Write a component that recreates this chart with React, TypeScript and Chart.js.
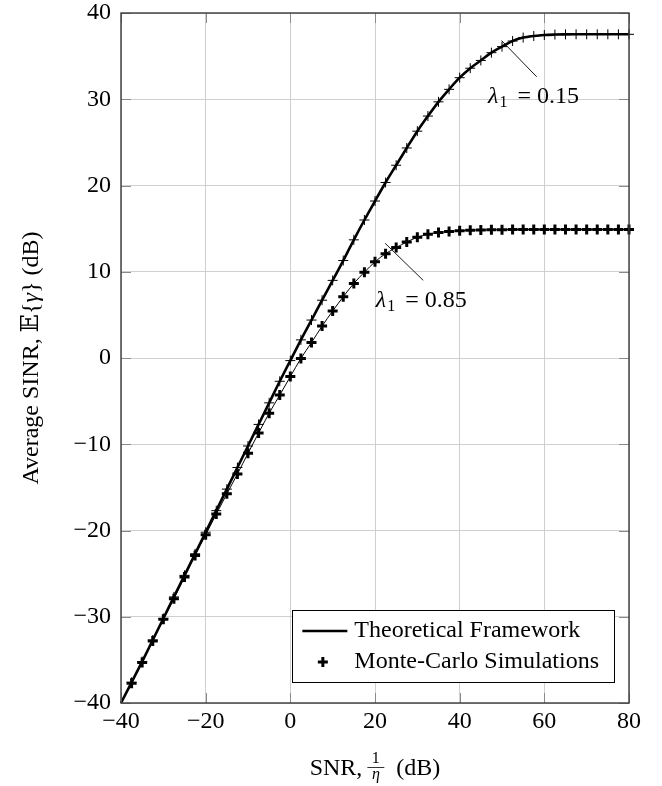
import { useEffect, useRef } from "react";
import { Chart, registerables } from "chart.js";

Chart.register(...registerables);

// ---------- data ----------
const snrDb = [
  -40, -37.5, -35, -32.5, -30, -27.5, -25, -22.5, -20, -17.5, -15, -12.5, -10, -7.5, -5, -2.5,
  0, 2.5, 5, 7.5, 10, 12.5, 15, 17.5, 20, 22.5, 25, 27.5, 30, 32.5, 35, 37.5,
  40, 42.5, 45, 47.5, 50, 52.5, 55, 57.5, 60, 62.5, 65, 67.5, 70, 72.5, 75, 77.5, 80,
];
const sinrLambda015 = [
  -40, -37.6, -35.2, -32.7, -30.2, -27.7, -25.2, -22.7, -20.2, -17.7, -15.2, -12.7, -10.2, -7.7, -5.2, -2.7,
  -0.3, 2.1, 4.4, 6.7, 9.0, 11.3, 13.7, 16.0, 18.2, 20.35, 22.35, 24.35, 26.3, 28.05, 29.7, 31.15,
  32.5, 33.6, 34.5, 35.4, 36.1, 36.75, 37.15, 37.33, 37.45, 37.5, 37.52, 37.53, 37.53, 37.53, 37.53, 37.53, 37.53,
];
const sinrLambda085 = [
  -40, -37.7, -35.3, -32.8, -30.3, -27.9, -25.4, -22.9, -20.5, -18.1, -15.75, -13.45, -11.05, -8.7, -6.4, -4.3,
  -2.15, -0.05, 1.8, 3.7, 5.45, 7.1, 8.65, 9.95, 11.15, 12.1, 12.8, 13.45, 14.0, 14.35, 14.55, 14.67,
  14.76, 14.82, 14.85, 14.87, 14.88, 14.9, 14.9, 14.9, 14.9, 14.9, 14.9, 14.9, 14.9, 14.9, 14.9, 14.9, 14.9,
];
const xTicks = [-40, -20, 0, 20, 40, 60, 80];
const yTicks = [-40, -30, -20, -10, 0, 10, 20, 30, 40];
const legendLabels = ["Theoretical Framework", "Monte-Carlo Simulations"];
const lambdaValues = ["0.15", "0.85"];
// pin annotations in data units: [curve point, pin end, label anchor]
const pinFrom = [[49.9, 36.8], [22.4, 13.3]];
const pinTo = [[58.2, 32.6], [31.4, 9.0]];
const pinLabel = [[46.7, 29.6], [20.2, 5.9]];

// ---------- styling ----------
const W = 662;
const H = 786;
const FONT = '"Liberation Serif", "DejaVu Serif", "Times New Roman", serif';
const FS = 24;

const fmt = (v: number) => (v < 0 ? "\u2212" + Math.abs(v) : String(v));

const decorPlugin = {
  id: "decor",
  afterDraw(chart: any) {
    const ctx: CanvasRenderingContext2D = chart.ctx;
    const ca = chart.chartArea;
    const xs = chart.scales.x;
    const ys = chart.scales.y;
    ctx.save();

    // inner tick marks on all four sides
    ctx.strokeStyle = "#8a8a8a";
    ctx.lineWidth = 1;
    const tl = 10;
    ctx.beginPath();
    xTicks.forEach((v) => {
      const px = Math.round(xs.getPixelForValue(v)) + 0.5;
      ctx.moveTo(px, ca.bottom);
      ctx.lineTo(px, ca.bottom - tl);
      ctx.moveTo(px, ca.top);
      ctx.lineTo(px, ca.top + tl);
    });
    yTicks.forEach((v) => {
      const py = Math.round(ys.getPixelForValue(v)) + 0.5;
      ctx.moveTo(ca.left, py);
      ctx.lineTo(ca.left + tl, py);
      ctx.moveTo(ca.right, py);
      ctx.lineTo(ca.right - tl, py);
    });
    ctx.stroke();

    // frame
    ctx.strokeStyle = "#3a3a3a";
    ctx.lineWidth = 1.4;
    ctx.strokeRect(ca.left, ca.top, ca.right - ca.left, ca.bottom - ca.top);

    // pins and lambda labels
    ctx.fillStyle = "#000";
    ctx.strokeStyle = "#000";
    for (let i = 0; i < lambdaValues.length; i++) {
      ctx.lineWidth = 0.9;
      ctx.beginPath();
      ctx.moveTo(xs.getPixelForValue(pinFrom[i][0]), ys.getPixelForValue(pinFrom[i][1]));
      ctx.lineTo(xs.getPixelForValue(pinTo[i][0]), ys.getPixelForValue(pinTo[i][1]));
      ctx.stroke();
      const lx = xs.getPixelForValue(pinLabel[i][0]);
      const ly = ys.getPixelForValue(pinLabel[i][1]);
      ctx.textAlign = "left";
      ctx.textBaseline = "alphabetic";
      ctx.font = `italic ${FS}px ${FONT}`;
      ctx.fillText("\u03bb", lx, ly);
      let w = ctx.measureText("\u03bb").width;
      ctx.font = `16px ${FONT}`;
      ctx.fillText("1", lx + w + 1, ly + 4);
      w += 1 + ctx.measureText("1").width;
      ctx.font = `${FS}px ${FONT}`;
      ctx.fillText("= " + lambdaValues[i], lx + w + 10, ly);
    }

    // legend
    ctx.font = `${FS}px ${FONT}`;
    const tw = Math.max(...legendLabels.map((t) => ctx.measureText(t).width));
    const boxRight = ca.right - 15;
    const boxBottom = ca.bottom - 21;
    const boxH = 72;
    const boxTop = boxBottom - boxH;
    const textX = boxRight - 15 - tw;
    const boxLeft = textX - 62;
    ctx.fillStyle = "#fff";
    ctx.fillRect(boxLeft, boxTop, boxRight - boxLeft, boxH);
    ctx.strokeStyle = "#000";
    ctx.lineWidth = 1;
    ctx.strokeRect(Math.round(boxLeft) + 0.5, Math.round(boxTop) + 0.5, Math.round(boxRight - boxLeft), boxH);
    const row1 = boxTop + 21;
    const row2 = boxTop + 52;
    ctx.lineWidth = 2.6;
    ctx.beginPath();
    ctx.moveTo(boxLeft + 10, row1);
    ctx.lineTo(boxLeft + 55, row1);
    ctx.stroke();
    ctx.lineWidth = 3;
    const mx = boxLeft + 30.5;
    ctx.beginPath();
    ctx.moveTo(mx - 5, row2);
    ctx.lineTo(mx + 5, row2);
    ctx.moveTo(mx, row2 - 5);
    ctx.lineTo(mx, row2 + 5);
    ctx.stroke();
    ctx.fillStyle = "#000";
    ctx.textAlign = "left";
    ctx.textBaseline = "middle";
    ctx.fillText(legendLabels[0], textX, row1);
    ctx.fillText(legendLabels[1], textX, row2);

    // x-axis title: SNR, 1/eta (dB)
    ctx.textBaseline = "alphabetic";
    const cx = (ca.left + ca.right) / 2;
    ctx.font = `${FS}px ${FONT}`;
    const wSnr = ctx.measureText("SNR,").width;
    const wDb = ctx.measureText("(dB)").width;
    const fracW = 17;
    const total = wSnr + 5 + fracW + 12 + wDb;
    let x0 = cx - total / 2;
    const base = ca.bottom + 72;
    ctx.fillText("SNR,", x0, base);
    x0 += wSnr + 5;
    ctx.textAlign = "center";
    ctx.font = `16px ${FONT}`;
    ctx.fillText("1", x0 + fracW / 2, base - 12);
    ctx.font = `italic 16px ${FONT}`;
    ctx.fillText("\u03b7", x0 + fracW / 2, base + 4);
    ctx.lineWidth = 0.8;
    ctx.beginPath();
    ctx.moveTo(x0, base - 7.5);
    ctx.lineTo(x0 + fracW, base - 7.5);
    ctx.stroke();
    x0 += fracW + 12;
    ctx.textAlign = "left";
    ctx.font = `${FS}px ${FONT}`;
    ctx.fillText("(dB)", x0, base);

    // y-axis title
    const parts = [
      { t: "Average SINR, ", f: `${FS}px ${FONT}` },
      { t: "\ud835\udd3c", f: `${FS}px "DejaVu Serif", "DejaVu Sans", ${FONT}` },
      { t: "{", f: `${FS}px ${FONT}` },
      { t: "\u03b3", f: `italic ${FS}px ${FONT}` },
      { t: "}", f: `${FS}px ${FONT}` },
      { t: " (dB)", f: `${FS}px ${FONT}` },
    ];
    const widths = parts.map((p) => {
      ctx.font = p.f;
      return ctx.measureText(p.t).width;
    });
    const tot = widths.reduce((a, b) => a + b, 0);
    ctx.translate(38, (ca.top + ca.bottom) / 2);
    ctx.rotate(-Math.PI / 2);
    let px = -tot / 2;
    parts.forEach((p, i) => {
      ctx.font = p.f;
      ctx.fillText(p.t, px, 0);
      px += widths[i];
    });

    ctx.restore();
  },
};

export default function App() {
  const ref = useRef<HTMLCanvasElement>(null);
  useEffect(() => {
    const canvas = ref.current!;
    const tickFont = { family: FONT, size: FS, lineHeight: 1 };
    const chart = new Chart(canvas, {
      type: "line",
      data: {
        datasets: [
          {
            label: "lambda 0.15",
            data: snrDb.map((x, i) => ({ x, y: sinrLambda015[i] })),
            borderColor: "#000",
            backgroundColor: "#000",
            borderWidth: 2.6,
            pointStyle: "cross",
            pointRadius: (c: any) => (c.dataIndex === 0 ? 0 : 5),
            pointBorderWidth: 1,
            pointBorderColor: "#000",
            cubicInterpolationMode: "monotone",
            clip: false,
          },
          {
            label: "lambda 0.85",
            data: snrDb.map((x, i) => ({ x, y: sinrLambda085[i] })),
            borderColor: "#000",
            backgroundColor: "#000",
            borderWidth: 1,
            pointStyle: "cross",
            pointRadius: (c: any) => (c.dataIndex === 0 ? 0 : 5),
            pointBorderWidth: 3,
            pointBorderColor: "#000",
            cubicInterpolationMode: "monotone",
            clip: false,
          },
        ],
      } as any,
      options: {
        responsive: false,
        animation: false,
        events: [],
        layout: { padding: { left: 0, top: 13, right: 33, bottom: 0 } },
        plugins: { legend: { display: false }, tooltip: { enabled: false } },
        scales: {
          x: {
            type: "linear",
            min: -40,
            max: 80,
            afterBuildTicks: (s: any) => {
              s.ticks = xTicks.map((value) => ({ value }));
            },
            afterFit: (s: any) => {
              s.height = 83;
              s.paddingLeft = 0;
              s.paddingRight = 0;
            },
            grid: { color: "#cfcfcf", lineWidth: 1, drawTicks: false },
            border: { display: false },
            ticks: {
              font: tickFont,
              color: "#000",
              padding: 7,
              maxRotation: 0,
              autoSkip: false,
              callback: (v: any) => fmt(Number(v)),
            },
          },
          y: {
            type: "linear",
            min: -40,
            max: 40,
            afterBuildTicks: (s: any) => {
              s.ticks = yTicks.map((value) => ({ value }));
            },
            afterFit: (s: any) => {
              s.width = 121;
              s.paddingTop = 0;
              s.paddingBottom = 0;
            },
            grid: { color: "#cfcfcf", lineWidth: 1, drawTicks: false },
            border: { display: false },
            ticks: {
              font: tickFont,
              color: "#000",
              padding: 10,
              autoSkip: false,
              callback: (v: any) => fmt(Number(v)),
            },
          },
        },
      } as any,
      plugins: [decorPlugin],
    });
    return () => chart.destroy();
  }, []);
  return (
    <div style={{ position: "fixed", left: 0, top: 0, width: W, height: H, background: "#fff" }}>
      <canvas ref={ref} width={W} height={H} style={{ width: W, height: H, display: "block" }} />
    </div>
  );
}
